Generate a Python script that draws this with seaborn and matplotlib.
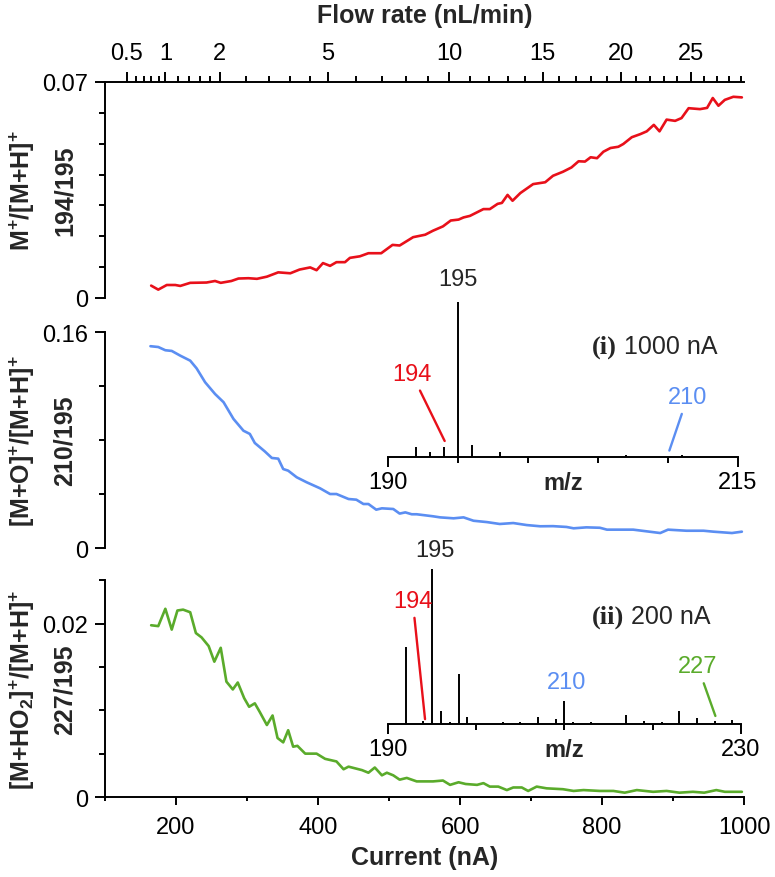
import numpy as np
import matplotlib
matplotlib.use("Agg")
import matplotlib.pyplot as plt
import seaborn as sns
from matplotlib.ticker import FixedLocator

# ---- values ----
current_194 = [165, 175, 187, 199, 206, 220, 243, 255, 263, 278, 288, 302, 314, 328, 344,
               361, 374, 389, 398, 407, 417, 426, 438, 445, 459, 471, 489, 505, 515, 534,
               551, 562, 576, 587, 598, 605, 614, 633, 642, 653, 659, 667, 674, 685, 703,
               720, 731, 745, 757, 767, 776, 784, 793, 802, 812, 823, 830, 842, 854, 863,
               873, 881, 891, 903, 912, 922, 938, 948, 956, 964, 973, 985, 997]
ratio_194 = [.0040, .0027, .0042, .0042, .0039, .0049, .0050, .0055, .0049, .0055, .0063, .0064, .0062, .0069, .0083,
             .0080, .0092, .0099, .0090, .0113, .0104, .0116, .0116, .0130, .0135, .0145, .0145, .0172, .0170, .0197,
             .0205, .0218, .0232, .0251, .0254, .0261, .0266, .0288, .0288, .0305, .0308, .0334, .0315, .0340, .0369,
             .0375, .0396, .0409, .0423, .0443, .0442, .0456, .0453, .0474, .0486, .0490, .0499, .0521, .0531, .0540,
             .0561, .0540, .0578, .0574, .0583, .0615, .0612, .0616, .0648, .0623, .0642, .0652, .0650]

current_210 = [164, 175, 185, 194, 206, 220, 229, 241, 255, 267, 281, 295, 304, 311, 325,
               335, 344, 351, 358, 370, 384, 403, 417, 426, 443, 454, 464, 471, 482, 490,
               506, 515, 523, 532, 539, 562, 572, 591, 605, 619, 638, 656, 675, 694, 713,
               731, 750, 760, 778, 797, 807, 844, 882, 893, 919, 943, 957, 983, 997]
ratio_210 = [.1495, .1489, .1465, .146, .1425, .1388, .1331, .1228, .1141, .1080, .0956, .0869, .0845, .0778, .0716,
             .0667, .0662, .0585, .0573, .0524, .0487, .0442, .0400, .0400, .0363, .0358, .0326, .0326, .0284, .0294,
             .0289, .0255, .0264, .0250, .0250, .0235, .0227, .0220, .0227, .0202, .0192, .0178, .0185, .0170, .0161,
             .0162, .0156, .0146, .0153, .0150, .0136, .0136, .0111, .0136, .0128, .0128, .0121, .0111, .0121]

current_227 = [165, 175, 185, 194, 202, 210, 220, 228, 236, 246, 254, 263, 271, 280, 287,
               296, 303, 311, 318, 328, 336, 343, 351, 358, 365, 371, 382, 398, 410, 426,
               436, 443, 462, 471, 480, 490, 497, 506, 515, 525, 539, 562, 576, 586, 598,
               608, 624, 633, 642, 654, 666, 675, 687, 696, 708, 722, 745, 760, 774, 797,
               816, 832, 849, 872, 891, 909, 928, 944, 961, 973, 997]
ratio_227 = [.0198, .0197, .0217, .0193, .0215, .0216, .0213, .0189, .0184, .0174, .0156, .0172, .0133, .0124, .0132,
             .0114, .0104, .0108, .0098, .0083, .0094, .0068, .0063, .0077, .0058, .0059, .0050, .0050, .0044, .0041,
             .0032, .0035, .0031, .0028, .0034, .0025, .0028, .0025, .0020, .0022, .0018, .0018, .0019, .0014, .0017,
             .0015, .0014, .0016, .0012, .0012, .0008, .0011, .0011, .0007, .0012, .0010, .0009, .0007, .0008, .0007,
             .0007, .0005, .0008, .0006, .0007, .0005, .0006, .0005, .0008, .0006, .0006]

# mass spectra (relative intensity)
mz_1000 = [192, 193, 194, 195, 196, 198, 207, 211]
int_1000 = [0.06, 0.03, 0.065, 0.97, 0.075, 0.03, 0.01, 0.01]
mz_200 = [192, 194, 195, 196, 197, 198, 199, 203, 205, 207, 209, 210, 211, 213,
          217, 219, 221, 223, 225, 227, 229]
int_200 = [0.48, 0.02, 0.97, 0.08, 0.01, 0.31, 0.045, 0.01, 0.01, 0.045, 0.03, 0.145, 0.01, 0.01,
           0.055, 0.02, 0.01, 0.08, 0.04, 0.02, 0.025]

flow_major = [0.5, 1, 2, 5, 10, 15, 20, 25]
flow_minor = [0.6, 0.7, 0.8, 0.9, 1.2, 1.4, 1.6, 1.8, 2.6, 3.2, 3.8, 4.4, 6, 7, 8, 9,
              11, 12, 13, 14, 16, 17, 18, 19, 21, 22, 23, 24, 26, 27, 28, 29]
FLOW_COEF = 185.0   # top axis: current (nA) ~ 185 * sqrt(flow)

RED = "#e8101a"
BLUE = "#5b8ef2"
GREEN = "#5aab2b"
FS = 17      # tick / annotation text
FL = 18      # bold axis labels
LW = 1.4

sns.set_style("ticks")
plt.rcParams["font.family"] = ["Liberation Sans", "DejaVu Sans"]
plt.rcParams["mathtext.fontset"] = "custom"
plt.rcParams["mathtext.rm"] = "Liberation Sans"
plt.rcParams["mathtext.bf"] = "Liberation Sans:bold"
plt.rcParams["axes.linewidth"] = LW
plt.rcParams["axes.edgecolor"] = "black"
plt.rcParams["xtick.color"] = "black"
plt.rcParams["ytick.color"] = "black"


def cur_to_flow(x):
    return (np.clip(x, 0, None) / FLOW_COEF) ** 2


def flow_to_cur(f):
    return FLOW_COEF * np.sqrt(np.clip(f, 0, None))


fig = plt.figure(figsize=(7.75, 8.78), dpi=100)
L, W = 105 / 775, 639 / 775
ax1 = fig.add_axes([L, 0.6595, W, 0.246])
ax2 = fig.add_axes([L, 0.3747, W, 0.246])
ax3 = fig.add_axes([L, 0.0911, W, 0.247])

sns.lineplot(x=current_194, y=ratio_194, ax=ax1, color=RED, lw=1.9)
sns.lineplot(x=current_210, y=ratio_210, ax=ax2, color=BLUE, lw=1.9)
sns.lineplot(x=current_227, y=ratio_227, ax=ax3, color=GREEN, lw=1.9)

panels = [
    (ax1, 0.07, [0, 0.07], ["0", "0.07"], [0.01, 0.02, 0.03, 0.04, 0.05, 0.06]),
    (ax2, 0.16, [0, 0.16], ["0", "0.16"], [0.04, 0.08, 0.12]),
    (ax3, 0.025, [0, 0.02], ["0", "0.02"], [0.005, 0.01, 0.015, 0.025]),
]
for ax, top, yt, ylab, ymin in panels:
    ax.set_xlim(100, 1000)
    ax.set_ylim(0, top)
    ax.set_yticks(yt, ylab)
    ax.yaxis.set_minor_locator(FixedLocator(ymin))
    ax.tick_params(axis="y", which="major", length=7, width=LW, labelsize=FS, pad=5)
    ax.tick_params(axis="y", which="minor", length=4, width=LW)
    ax.spines["right"].set_visible(False)
    ax.spines["top"].set_visible(False)
    ax.set_xlabel("")
    ax.set_ylabel("")

for ax in (ax1, ax2):
    ax.spines["bottom"].set_visible(False)
    ax.set_xticks([])
    ax.xaxis.set_minor_locator(FixedLocator([]))

ax3.set_xticks([200, 400, 600, 800, 1000])
ax3.xaxis.set_minor_locator(FixedLocator([100, 300, 500, 700, 900]))
ax3.tick_params(axis="x", which="major", length=6, width=LW, labelsize=FS, pad=8)
ax3.tick_params(axis="x", which="minor", length=3, width=LW)
ax3.set_xlabel("Current (nA)", fontsize=FL, fontweight="bold", labelpad=5)

# flow rate axis on top
sec = ax1.secondary_xaxis("top", functions=(cur_to_flow, flow_to_cur))
sec.set_xticks(flow_major, ["0.5", "1", "2", "5", "10", "15", "20", "25"])
sec.xaxis.set_minor_locator(FixedLocator(flow_minor))
sec.tick_params(axis="x", which="major", length=7, width=LW, labelsize=FS, pad=6)
sec.tick_params(axis="x", which="minor", length=4, width=LW)
sec.spines["top"].set_linewidth(LW)
sec.set_xlabel("Flow rate (nL/min)", fontsize=FL, fontweight="bold", labelpad=14)

# y labels (two lines each)
ylabels = [
    (0.7825, r"M$^{\mathbf{+}}$/[M+H]$^{\mathbf{+}}$", "194/195"),
    (0.4977, r"[M+O]$^{\mathbf{+}}$/[M+H]$^{\mathbf{+}}$", "210/195"),
    (0.2147, r"[M+HO$_{\mathbf{2}}$]$^{\mathbf{+}}$/[M+H]$^{\mathbf{+}}$", "227/195"),
]
for yc, l1, l2 in ylabels:
    fig.text(22 / 775, yc, l1, rotation=90, ha="center", va="center", fontsize=FL, fontweight="bold")
    fig.text(65 / 775, yc, l2, rotation=90, ha="center", va="center", fontsize=FL, fontweight="bold")


def spectrum_inset(rect, mz, inten, xmax, minor):
    axi = fig.add_axes(rect)
    axi.patch.set_alpha(0)
    axi.vlines(mz, 0, inten, color="black", lw=1.4)
    axi.set_xlim(190, xmax)
    axi.set_ylim(0, 1)
    axi.set_xticks([190, xmax])
    axi.xaxis.set_minor_locator(FixedLocator(minor))
    axi.set_yticks([])
    for s in ("top", "right", "left"):
        axi.spines[s].set_visible(False)
    axi.tick_params(axis="x", which="major", length=7, width=LW, labelsize=FS, pad=3)
    axi.tick_params(axis="x", which="minor", length=4, width=LW)
    axi.set_xlabel("m/z", fontsize=FS, fontweight="bold")
    axi.xaxis.set_label_coords(0.5, -0.085)
    return axi


def panel_tag(axi, x, y, tag, text):
    t = axi.text(x, y, tag, fontsize=FS + 2, fontweight="bold",
                 family=["Liberation Serif", "DejaVu Serif"], ha="left", va="center")
    axi.annotate(" " + text, xy=(1, 0), xycoords=t, ha="left", va="bottom", fontsize=FS + 1)


ins1 = spectrum_inset([0.5006, 0.4784, 0.4516, 0.1822], mz_1000, int_1000, 215, [195, 200, 205, 210])
ins1.text(195, 1.11, "195", ha="center", va="center", fontsize=FS)
ins1.annotate("194", xy=(194.05, 0.1), xytext=(191.7, 0.52), ha="center", va="center",
              fontsize=FS, color=RED,
              arrowprops=dict(arrowstyle="-", color=RED, lw=1.7, shrinkA=2, shrinkB=0))
ins1.annotate("210", xy=(210.1, 0.04), xytext=(211.4, 0.375), ha="center", va="center",
              fontsize=FS, color=BLUE,
              arrowprops=dict(arrowstyle="-", color=BLUE, lw=1.7, shrinkA=2, shrinkB=0))
panel_tag(ins1, 204.6, 0.69, "(i)", "1000 nA")

ins2 = spectrum_inset([0.5006, 0.1743, 0.4555, 0.1822], mz_200, int_200, 230, [200, 210, 220])
ins2.text(195.3, 1.09, "195", ha="center", va="center", fontsize=FS)
ins2.annotate("194", xy=(194.2, 0.03), xytext=(192.8, 0.77), ha="center", va="center",
              fontsize=FS, color=RED,
              arrowprops=dict(arrowstyle="-", color=RED, lw=1.7, shrinkA=2, shrinkB=0))
ins2.text(210.2, 0.26, "210", ha="center", va="center", fontsize=FS, color=BLUE)
ins2.annotate("227", xy=(227.1, 0.05), xytext=(225.1, 0.36), ha="center", va="center",
              fontsize=FS, color=GREEN,
              arrowprops=dict(arrowstyle="-", color=GREEN, lw=1.7, shrinkA=2, shrinkB=0))
panel_tag(ins2, 213.1, 0.67, "(ii)", "200 nA")

fig.savefig("out.png", dpi=100)
